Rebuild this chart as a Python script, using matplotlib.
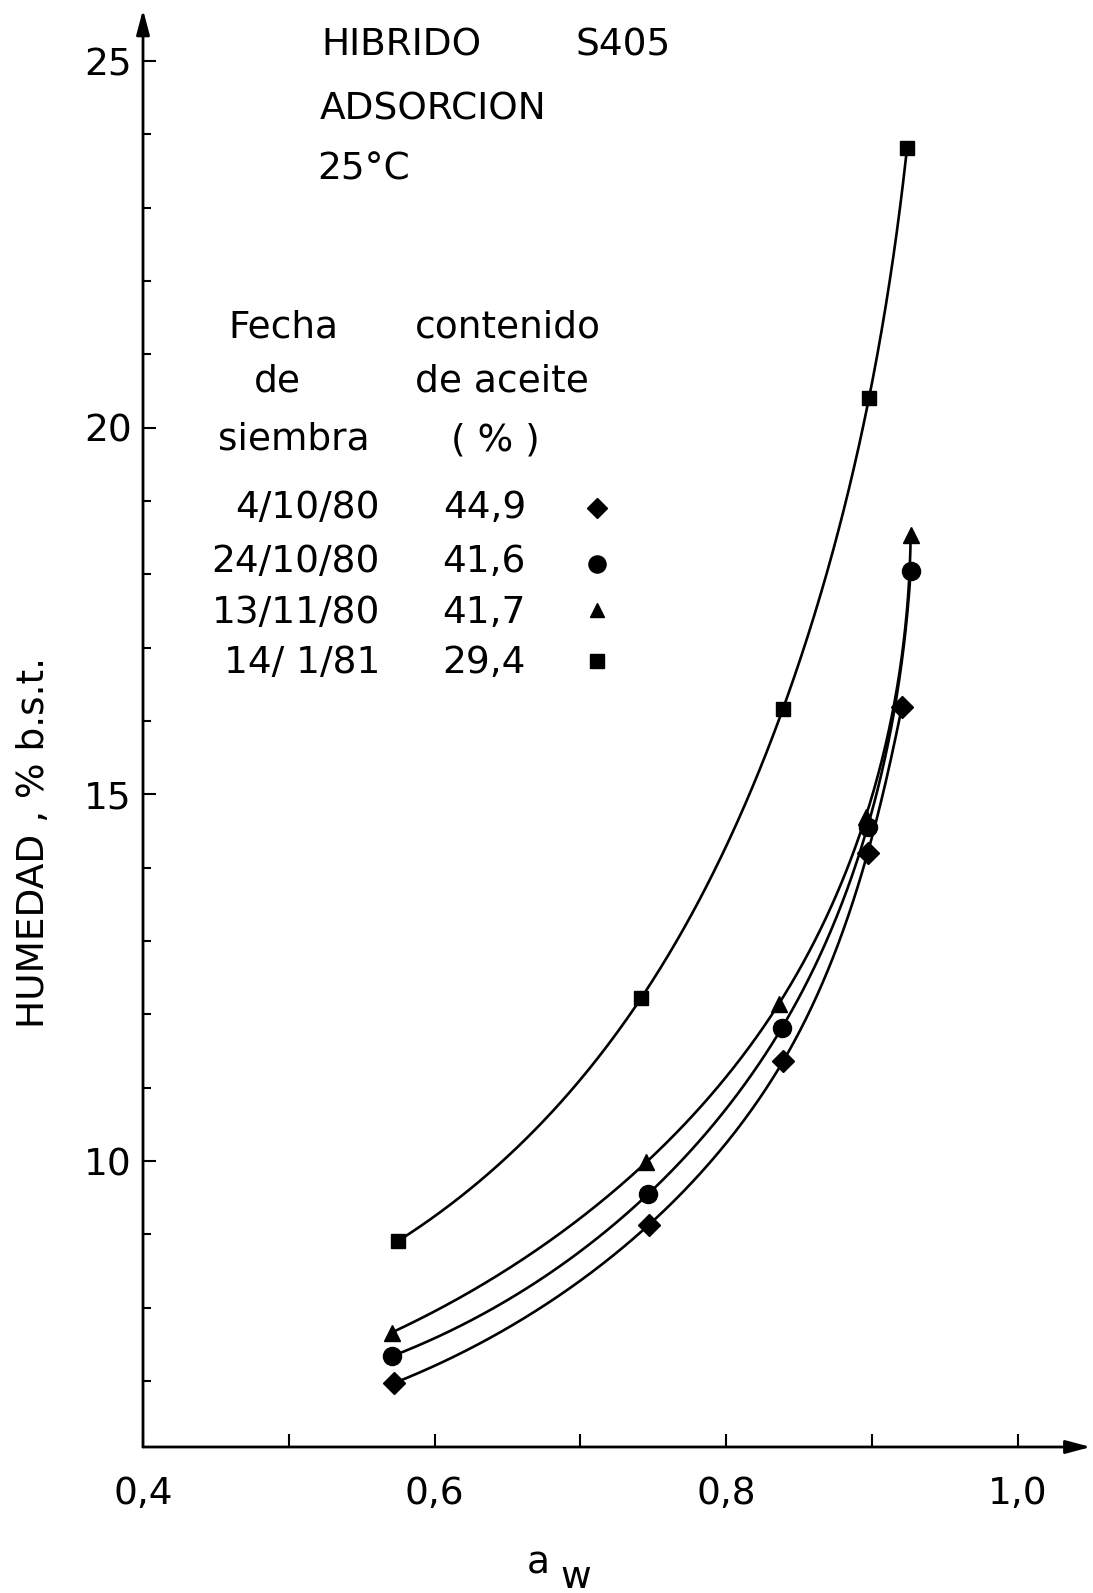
import numpy as np
import matplotlib
matplotlib.use("Agg")
import matplotlib.pyplot as plt

# ---------------- data ----------------
aw_diamond = [0.572, 0.747, 0.839, 0.897, 0.9205]
hum_diamond = [6.97, 9.13, 11.36, 14.20, 16.19]

aw_circle = [0.571, 0.7465, 0.838, 0.897, 0.9265]
hum_circle = [7.34, 9.55, 11.81, 14.56, 18.04]

aw_triangle = [0.5705, 0.745, 0.836, 0.8956, 0.9265]
hum_triangle = [7.66, 9.98, 12.14, 14.69, 18.53]

aw_square = [0.575, 0.7416, 0.839, 0.898, 0.924]
hum_square = [8.91, 12.22, 16.17, 20.41, 23.81]

fechas = ["4/10/80", "24/10/80", "13/11/80", "14/ 1/81"]
aceite = ["44,9", "41,6", "41,7", "29,4"]
markers = ["D", "o", "^", "s"]

xtick_vals = [0.4, 0.6, 0.8, 1.0]
xtick_labels = ["0,4", "0,6", "0,8", "1,0"]
xminor_vals = [0.5, 0.7, 0.9]
ytick_vals = [10, 15, 20, 25]
ytick_labels = ["10", "15", "20", "25"]
yminor_vals = [7, 8, 9, 11, 12, 13, 14, 16, 17, 18, 19, 21, 22, 23, 24]

# ---------------- helpers ----------------
W, H = 1093, 1593
def fx(px):
    return px / W
def fy(py):
    return 1 - py / H

def notaknot_spline(t, y, ts):
    t = np.asarray(t, float); y = np.asarray(y, float)
    n = len(t); h = np.diff(t)
    A = np.zeros((n, n)); r = np.zeros(n)
    A[0, 0] = h[1]; A[0, 1] = -(h[0] + h[1]); A[0, 2] = h[0]
    A[-1, -3] = h[-1]; A[-1, -2] = -(h[-2] + h[-1]); A[-1, -1] = h[-2]
    for i in range(1, n - 1):
        A[i, i - 1] = h[i - 1]; A[i, i] = 2 * (h[i - 1] + h[i]); A[i, i + 1] = h[i]
        r[i] = 6 * ((y[i + 1] - y[i]) / h[i] - (y[i] - y[i - 1]) / h[i - 1])
    M = np.linalg.solve(A, r)
    idx = np.clip(np.searchsorted(t, ts) - 1, 0, n - 2)
    hi = h[idx]; a = t[idx + 1] - ts; b = ts - t[idx]
    return (M[idx] * a**3 / (6 * hi) + M[idx + 1] * b**3 / (6 * hi)
            + (y[idx] / hi - M[idx] * hi / 6) * a + (y[idx + 1] / hi - M[idx + 1] * hi / 6) * b)

def smooth_curve(xs, ys, sx=1458.0, sy=73.3):
    xs = np.asarray(xs, float); ys = np.asarray(ys, float)
    d = np.hypot(np.diff(xs) * sx, np.diff(ys) * sy)
    t = np.concatenate([[0], np.cumsum(d)])
    tt = np.linspace(0, t[-1], 400)
    return notaknot_spline(t, xs, tt), notaknot_spline(t, ys, tt)

plt.rcParams["font.family"] = ["DejaVu Sans"]
FS = 27

fig = plt.figure(figsize=(W / 100, H / 100), dpi=100)
ax = fig.add_axes([fx(143), fy(1447), (1090.7 - 143) / W, (1447 - 9.7) / H])
ax.set_xlim(0.4, 1.05)
ax.set_ylim(6.1, 25.7)
for s in ax.spines.values():
    s.set_visible(False)

# axis lines with arrows
arrow_kw = dict(arrowstyle="-|>,head_length=0.75,head_width=0.2", lw=2.0,
                color="black", mutation_scale=20, shrinkA=0, shrinkB=0)
ax.annotate("", xy=(1.05, 6.1), xytext=(0.4, 6.1), arrowprops=arrow_kw, annotation_clip=False)
ax.annotate("", xy=(0.4, 25.7), xytext=(0.4, 6.1), arrowprops=arrow_kw, annotation_clip=False)

ax.set_xticks(xtick_vals)
ax.set_xticklabels(xtick_labels)
ax.set_xticks(xminor_vals, minor=True)
ax.set_yticks(ytick_vals)
ax.set_yticklabels(ytick_labels)
ax.set_yticks(yminor_vals, minor=True)
ax.tick_params(axis="x", which="both", direction="in", length=9.5, width=1.5,
               pad=21, labelsize=FS)
ax.tick_params(axis="y", which="major", direction="in", length=9.5, width=1.5,
               pad=8, labelsize=FS)
ax.tick_params(axis="y", which="minor", direction="in", length=6, width=1.5)

series = [(aw_diamond, hum_diamond, "D", 11),
          (aw_circle, hum_circle, "o", 13),
          (aw_triangle, hum_triangle, "^", 11),
          (aw_square, hum_square, "s", 10)]
for xs_, ys_, m, ms in series:
    cx, cy = smooth_curve(xs_, ys_)
    ax.plot(cx, cy, color="black", lw=1.9, solid_capstyle="round")
    ax.plot(xs_, ys_, linestyle="none", marker=m, ms=ms, color="black")

# title block
fig.text(fx(321), fy(46), "HIBRIDO", fontsize=FS, ha="left", va="center")
fig.text(fx(576), fy(46), "S405", fontsize=FS, ha="left", va="center")
fig.text(fx(320), fy(110), "ADSORCION", fontsize=FS, ha="left", va="center")
fig.text(fx(317), fy(170), "25°C", fontsize=FS, ha="left", va="center")

# legend table
fig.text(fx(283), fy(327), "Fecha", fontsize=FS, ha="center", va="center")
fig.text(fx(277), fy(382), "de", fontsize=FS, ha="center", va="center")
fig.text(fx(294), fy(440), "siembra", fontsize=FS, ha="center", va="center")
fig.text(fx(508), fy(327), "contenido", fontsize=FS, ha="center", va="center")
fig.text(fx(502), fy(382), "de aceite", fontsize=FS, ha="center", va="center")
fig.text(fx(495), fy(440), "( % )", fontsize=FS, ha="center", va="center")

row_y = [508, 562, 613, 663]
marker_y = [508, 564, 610, 661]
for f, a, m, ry, my, (_, _, _, ms) in zip(fechas, aceite, markers, row_y, marker_y, series):
    fig.text(fx(380), fy(ry), f, fontsize=FS, ha="right", va="center")
    fig.text(fx(526), fy(ry), a, fontsize=FS, ha="right", va="center")
    ax.plot([fx(597)], [fy(my)], marker=m, ms=ms * 0.95, color="black",
            transform=fig.transFigure, clip_on=False, linestyle="none")

# axis labels
fig.text(fx(34), fy(843), "HUMEDAD , % b.s.t.", fontsize=FS, rotation=90,
         ha="center", va="center")
fig.text(fx(538), fy(1563), "a", fontsize=FS, ha="center", va="center")
fig.text(fx(576), fy(1578), "w", fontsize=FS, ha="center", va="center")

fig.savefig("out.png", dpi=100)
